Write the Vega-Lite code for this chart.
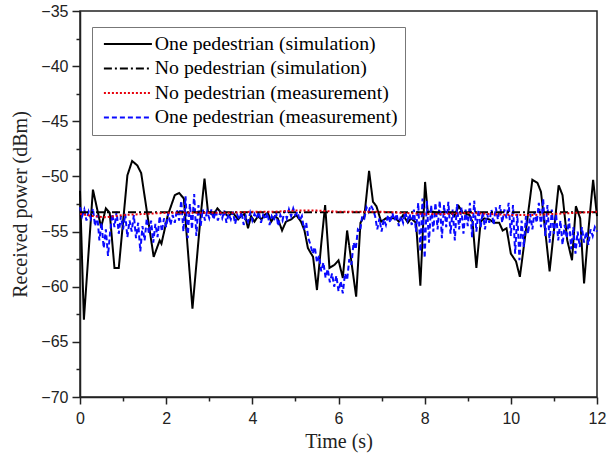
{
  "$schema": "https://vega.github.io/schema/vega-lite/v6.json",
  "width": 517,
  "height": 386,
  "autosize": "none",
  "padding": {"left": 80, "top": 11, "right": 14, "bottom": 59},
  "background": "white",
  "config": {
    "view": {"stroke": "#222", "strokeWidth": 1.5},
    "axis": {
      "grid": false,
      "domainColor": "#222",
      "domainWidth": 1.5,
      "tickColor": "#222",
      "tickWidth": 1.5,
      "labelFont": "Liberation Sans",
      "labelFontSize": 16,
      "labelColor": "#222",
      "titleFont": "Liberation Serif",
      "titleFontSize": 20,
      "titleFontWeight": "normal",
      "titleColor": "#222"
    }
  },
  "datasets": {
    "sim1": [
      {"t":0.0,"v":-51.3},{"t":0.09,"v":-63.0},{"t":0.30,"v":-51.2},{"t":0.49,"v":-54.6},{"t":0.60,"v":-52.9},{"t":0.69,"v":-53.3},{"t":0.80,"v":-58.3},{"t":0.90,"v":-58.3},{"t":1.10,"v":-49.9},{"t":1.21,"v":-48.6},{"t":1.33,"v":-49.0},{"t":1.42,"v":-49.7},{"t":1.71,"v":-57.3},{"t":1.85,"v":-55.8},{"t":1.89,"v":-56.1},{"t":2.04,"v":-53.5},{"t":2.20,"v":-51.7},{"t":2.30,"v":-51.5},{"t":2.41,"v":-52.0},{"t":2.61,"v":-62.0},{"t":2.80,"v":-53.6},{"t":2.89,"v":-50.2},{"t":2.97,"v":-53.2},{"t":3.09,"v":-53.5},{"t":3.19,"v":-52.9},{"t":3.28,"v":-53.3},{"t":3.36,"v":-53.3},{"t":3.43,"v":-53.6},{"t":3.55,"v":-53.3},{"t":3.67,"v":-53.9},{"t":3.74,"v":-53.6},{"t":3.82,"v":-53.4},{"t":3.90,"v":-54.7},{"t":3.97,"v":-53.6},{"t":4.05,"v":-54.1},{"t":4.13,"v":-53.6},{"t":4.21,"v":-53.9},{"t":4.28,"v":-53.5},{"t":4.36,"v":-53.3},{"t":4.44,"v":-54.1},{"t":4.52,"v":-53.6},{"t":4.59,"v":-53.8},{"t":4.69,"v":-54.9},{"t":4.78,"v":-54.1},{"t":4.90,"v":-53.9},{"t":5.02,"v":-53.5},{"t":5.13,"v":-54.1},{"t":5.21,"v":-54.9},{"t":5.29,"v":-56.5},{"t":5.41,"v":-57.3},{"t":5.50,"v":-60.3},{"t":5.60,"v":-56.1},{"t":5.69,"v":-52.6},{"t":5.79,"v":-58.3},{"t":5.91,"v":-58.0},{"t":6.00,"v":-57.6},{"t":6.10,"v":-59.2},{"t":6.20,"v":-54.9},{"t":6.41,"v":-60.9},{"t":6.51,"v":-54.2},{"t":6.60,"v":-53.6},{"t":6.71,"v":-49.5},{"t":6.80,"v":-52.3},{"t":6.88,"v":-52.7},{"t":6.99,"v":-54.1},{"t":7.10,"v":-53.8},{"t":7.21,"v":-53.8},{"t":7.33,"v":-53.8},{"t":7.40,"v":-54.1},{"t":7.50,"v":-53.5},{"t":7.61,"v":-54.2},{"t":7.68,"v":-53.8},{"t":7.80,"v":-54.2},{"t":7.90,"v":-59.9},{"t":8.01,"v":-50.5},{"t":8.07,"v":-53.2},{"t":8.19,"v":-53.2},{"t":8.30,"v":-53.3},{"t":8.46,"v":-53.2},{"t":8.61,"v":-53.3},{"t":8.69,"v":-53.6},{"t":8.79,"v":-52.7},{"t":8.89,"v":-53.3},{"t":9.04,"v":-53.5},{"t":9.11,"v":-54.1},{"t":9.20,"v":-58.3},{"t":9.30,"v":-54.1},{"t":9.38,"v":-53.8},{"t":9.50,"v":-53.9},{"t":9.61,"v":-54.2},{"t":9.73,"v":-54.2},{"t":9.81,"v":-54.9},{"t":9.90,"v":-54.7},{"t":10.00,"v":-57.0},{"t":10.12,"v":-57.7},{"t":10.21,"v":-59.1},{"t":10.35,"v":-54.9},{"t":10.50,"v":-50.3},{"t":10.62,"v":-50.6},{"t":10.70,"v":-51.4},{"t":10.90,"v":-58.6},{"t":11.11,"v":-50.8},{"t":11.20,"v":-51.7},{"t":11.31,"v":-55.8},{"t":11.42,"v":-57.6},{"t":11.51,"v":-52.7},{"t":11.61,"v":-53.8},{"t":11.70,"v":-59.7},{"t":11.80,"v":-54.9},{"t":11.91,"v":-50.3},{"t":12.00,"v":-53.6}
    ],
    "sim0": [
      {"t":0,"v":-53.25},{"t":12,"v":-53.25}
    ],
    "meas0": [
      {"t":0,"v":-53.4},{"t":0.3,"v":-53.6},{"t":0.6,"v":-53.7},{"t":1.0,"v":-53.5},{"t":1.5,"v":-53.4},{"t":2.0,"v":-53.3},{"t":2.5,"v":-53.3},{"t":3.0,"v":-53.3},{"t":3.5,"v":-53.3},{"t":4.0,"v":-53.2},{"t":4.5,"v":-53.2},{"t":5.0,"v":-53.1},{"t":5.5,"v":-53.1},{"t":6.0,"v":-53.2},{"t":6.5,"v":-53.2},{"t":7.0,"v":-53.2},{"t":7.5,"v":-53.3},{"t":8.0,"v":-53.4},{"t":8.5,"v":-53.4},{"t":9.0,"v":-53.3},{"t":9.5,"v":-53.4},{"t":10.0,"v":-53.5},{"t":10.5,"v":-53.5},{"t":11.0,"v":-53.4},{"t":11.5,"v":-53.3},{"t":12.0,"v":-53.2}
    ],
    "meas1": [
      {"t":0.00,"v":-52.8},{"t":0.05,"v":-53.6},{"t":0.10,"v":-53.0},{"t":0.15,"v":-54.0},{"t":0.20,"v":-53.2},{"t":0.25,"v":-53.8},{"t":0.30,"v":-52.9},{"t":0.35,"v":-54.5},{"t":0.40,"v":-53.5},{"t":0.45,"v":-55.8},{"t":0.50,"v":-54.2},{"t":0.55,"v":-56.5},{"t":0.60,"v":-54.8},{"t":0.65,"v":-57.2},{"t":0.70,"v":-55.0},{"t":0.75,"v":-53.4},{"t":0.80,"v":-54.6},{"t":0.85,"v":-53.2},{"t":0.90,"v":-55.2},{"t":0.95,"v":-53.6},
      {"t":1.00,"v":-54.8},{"t":1.05,"v":-53.4},{"t":1.10,"v":-55.5},{"t":1.15,"v":-54.0},{"t":1.20,"v":-55.0},{"t":1.25,"v":-53.5},{"t":1.30,"v":-55.6},{"t":1.35,"v":-54.2},{"t":1.40,"v":-56.8},{"t":1.45,"v":-54.5},{"t":1.50,"v":-55.8},{"t":1.55,"v":-53.8},{"t":1.60,"v":-55.2},{"t":1.65,"v":-54.0},{"t":1.70,"v":-56.0},{"t":1.75,"v":-54.3},{"t":1.80,"v":-55.5},{"t":1.85,"v":-53.6},{"t":1.90,"v":-55.0},{"t":1.95,"v":-53.8},
      {"t":2.00,"v":-54.6},{"t":2.05,"v":-53.3},{"t":2.10,"v":-54.4},{"t":2.15,"v":-53.5},{"t":2.20,"v":-54.2},{"t":2.25,"v":-53.0},{"t":2.30,"v":-54.0},{"t":2.35,"v":-52.2},{"t":2.40,"v":-55.0},{"t":2.45,"v":-51.8},{"t":2.50,"v":-55.6},{"t":2.55,"v":-52.5},{"t":2.60,"v":-54.8},{"t":2.65,"v":-51.6},{"t":2.70,"v":-55.4},{"t":2.75,"v":-52.6},{"t":2.80,"v":-54.5},{"t":2.85,"v":-53.0},{"t":2.90,"v":-54.0},{"t":2.95,"v":-53.2},
      {"t":3.00,"v":-53.8},{"t":3.05,"v":-53.0},{"t":3.10,"v":-53.9},{"t":3.15,"v":-53.1},{"t":3.20,"v":-54.0},{"t":3.25,"v":-53.3},{"t":3.30,"v":-53.8},{"t":3.35,"v":-53.1},{"t":3.40,"v":-54.2},{"t":3.45,"v":-53.4},{"t":3.50,"v":-53.9},{"t":3.55,"v":-53.2},{"t":3.60,"v":-54.3},{"t":3.65,"v":-53.5},{"t":3.70,"v":-53.9},{"t":3.75,"v":-53.2},{"t":3.80,"v":-54.4},{"t":3.85,"v":-53.6},{"t":3.90,"v":-54.1},{"t":3.95,"v":-53.3},
      {"t":4.00,"v":-54.0},{"t":4.05,"v":-53.4},{"t":4.10,"v":-53.8},{"t":4.15,"v":-53.2},{"t":4.20,"v":-54.2},{"t":4.25,"v":-53.5},{"t":4.30,"v":-53.9},{"t":4.35,"v":-53.3},{"t":4.40,"v":-54.4},{"t":4.45,"v":-53.6},{"t":4.50,"v":-54.0},{"t":4.55,"v":-53.2},{"t":4.60,"v":-54.5},{"t":4.65,"v":-53.5},{"t":4.70,"v":-54.0},{"t":4.75,"v":-53.1},{"t":4.80,"v":-53.8},{"t":4.85,"v":-53.0},{"t":4.90,"v":-53.6},{"t":4.95,"v":-52.9},
      {"t":5.00,"v":-53.5},{"t":5.05,"v":-53.2},{"t":5.10,"v":-54.0},{"t":5.15,"v":-53.6},{"t":5.20,"v":-54.8},{"t":5.25,"v":-54.2},{"t":5.30,"v":-55.6},{"t":5.35,"v":-56.2},{"t":5.40,"v":-57.0},{"t":5.45,"v":-56.4},{"t":5.50,"v":-57.8},{"t":5.55,"v":-57.2},{"t":5.60,"v":-58.6},{"t":5.65,"v":-57.8},{"t":5.70,"v":-59.2},{"t":5.75,"v":-58.4},{"t":5.80,"v":-59.6},{"t":5.85,"v":-58.8},{"t":5.90,"v":-60.0},{"t":5.95,"v":-59.0},
      {"t":6.00,"v":-60.4},{"t":6.05,"v":-59.5},{"t":6.10,"v":-60.6},{"t":6.15,"v":-58.8},{"t":6.20,"v":-59.4},{"t":6.25,"v":-57.5},{"t":6.30,"v":-58.0},{"t":6.35,"v":-56.0},{"t":6.40,"v":-56.6},{"t":6.45,"v":-54.8},{"t":6.50,"v":-55.0},{"t":6.55,"v":-53.6},{"t":6.60,"v":-53.8},{"t":6.65,"v":-52.8},{"t":6.70,"v":-53.2},{"t":6.75,"v":-52.6},{"t":6.80,"v":-53.0},{"t":6.85,"v":-53.6},{"t":6.90,"v":-54.8},{"t":6.95,"v":-53.8},
      {"t":7.00,"v":-55.0},{"t":7.05,"v":-53.9},{"t":7.10,"v":-54.4},{"t":7.15,"v":-53.5},{"t":7.20,"v":-54.2},{"t":7.25,"v":-53.3},{"t":7.30,"v":-54.0},{"t":7.35,"v":-53.4},{"t":7.40,"v":-54.5},{"t":7.45,"v":-53.6},{"t":7.50,"v":-54.2},{"t":7.55,"v":-53.2},{"t":7.60,"v":-54.0},{"t":7.65,"v":-53.4},{"t":7.70,"v":-54.4},{"t":7.75,"v":-53.0},{"t":7.80,"v":-55.0},{"t":7.85,"v":-52.4},{"t":7.90,"v":-56.8},{"t":7.95,"v":-52.0},
      {"t":8.00,"v":-57.4},{"t":8.05,"v":-52.2},{"t":8.10,"v":-56.0},{"t":8.15,"v":-52.6},{"t":8.20,"v":-55.0},{"t":8.25,"v":-52.4},{"t":8.30,"v":-54.8},{"t":8.35,"v":-52.2},{"t":8.40,"v":-55.6},{"t":8.45,"v":-52.6},{"t":8.50,"v":-54.6},{"t":8.55,"v":-52.3},{"t":8.60,"v":-55.2},{"t":8.65,"v":-53.0},{"t":8.70,"v":-55.8},{"t":8.75,"v":-52.5},{"t":8.80,"v":-54.8},{"t":8.85,"v":-52.8},{"t":8.90,"v":-55.2},{"t":8.95,"v":-53.0},
      {"t":9.00,"v":-54.5},{"t":9.05,"v":-52.4},{"t":9.10,"v":-55.5},{"t":9.15,"v":-52.2},{"t":9.20,"v":-55.0},{"t":9.25,"v":-53.0},{"t":9.30,"v":-54.6},{"t":9.35,"v":-53.2},{"t":9.40,"v":-54.8},{"t":9.45,"v":-53.4},{"t":9.50,"v":-54.2},{"t":9.55,"v":-53.0},{"t":9.60,"v":-54.4},{"t":9.65,"v":-52.8},{"t":9.70,"v":-53.9},{"t":9.75,"v":-52.6},{"t":9.80,"v":-54.2},{"t":9.85,"v":-53.0},{"t":9.90,"v":-53.8},{"t":9.95,"v":-52.4},
      {"t":10.00,"v":-55.4},{"t":10.05,"v":-52.6},{"t":10.10,"v":-57.0},{"t":10.15,"v":-53.4},{"t":10.20,"v":-57.6},{"t":10.25,"v":-54.0},{"t":10.30,"v":-56.4},{"t":10.35,"v":-53.6},{"t":10.40,"v":-55.2},{"t":10.45,"v":-53.4},{"t":10.50,"v":-54.8},{"t":10.55,"v":-53.2},{"t":10.60,"v":-54.2},{"t":10.65,"v":-52.4},{"t":10.70,"v":-54.6},{"t":10.75,"v":-52.0},{"t":10.80,"v":-55.4},{"t":10.85,"v":-52.6},{"t":10.90,"v":-56.0},{"t":10.95,"v":-53.0},
      {"t":11.00,"v":-55.2},{"t":11.05,"v":-53.4},{"t":11.10,"v":-55.8},{"t":11.15,"v":-54.0},{"t":11.20,"v":-56.2},{"t":11.25,"v":-54.4},{"t":11.30,"v":-55.6},{"t":11.35,"v":-53.8},{"t":11.40,"v":-56.6},{"t":11.45,"v":-54.6},{"t":11.50,"v":-57.0},{"t":11.55,"v":-55.0},{"t":11.60,"v":-56.4},{"t":11.65,"v":-54.6},{"t":11.70,"v":-56.0},{"t":11.75,"v":-55.0},{"t":11.80,"v":-56.2},{"t":11.85,"v":-54.8},{"t":11.90,"v":-55.4},{"t":11.95,"v":-54.6},{"t":12.00,"v":-55.0}
    ]
  },
  "encoding": {
    "x": {
      "field": "t", "type": "quantitative",
      "scale": {"domain": [0, 12], "nice": false, "zero": false},
      "axis": {
        "title": "Time (s)",
        "values": [0,1,2,3,4,5,6,7,8,9,10,11,12],
        "labelExpr": "datum.value % 2 === 0 ? datum.label : ''",
        "tickSize": {"condition": {"test": "datum.value % 2 === 0", "value": 7}, "value": 4},
        "labelPadding": 6,
        "titlePadding": 5,
        "labelFlush": false
      }
    },
    "y": {
      "field": "v", "type": "quantitative",
      "scale": {"domain": [-70, -35], "nice": false, "zero": false},
      "axis": {
        "title": "Received power (dBm)",
        "values": [-70,-67.5,-65,-62.5,-60,-57.5,-55,-52.5,-50,-47.5,-45,-42.5,-40,-37.5,-35],
        "labelExpr": "datum.value % 5 === 0 ? datum.label : ''",
        "tickSize": {"condition": {"test": "datum.value % 5 === 0", "value": 8}, "value": 4},
        "labelPadding": 4,
        "titlePadding": 10,
        "labelFlush": false
      }
    }
  },
  "layer": [
    {
      "data": {"name": "sim1"},
      "mark": {"type": "line", "strokeWidth": 2},
      "encoding": {
        "color": {
          "datum": "One pedestrian (simulation)", "type": "nominal",
          "scale": {
            "domain": ["One pedestrian (simulation)", "No pedestrian (simulation)", "No pedestrian (measurement)", "One pedestrian (measurement)"],
            "range": ["#000000", "#000000", "#e8000b", "#0a0aff"]
          },
          "legend": {
            "title": null,
            "orient": "none",
            "legendX": 12,
            "legendY": 16,
            "direction": "vertical",
            "strokeColor": "#777",
            "fillColor": "white",
            "padding": 7,
            "rowPadding": 3.5,
            "labelFont": "Liberation Serif",
            "labelFontSize": 19.8,
            "labelLimit": 400,
            "labelColor": "#000",
            "symbolType": "M-1,0H8.6",
            "symbolSize": 100,
            "symbolStrokeWidth": 2,
            "labelOffset": 36
          }
        },
        "strokeDash": {
          "datum": "One pedestrian (simulation)", "type": "nominal",
          "scale": {
            "domain": ["One pedestrian (simulation)", "No pedestrian (simulation)", "No pedestrian (measurement)", "One pedestrian (measurement)"],
            "range": [[1, 0], [8, 3, 2, 3], [2, 2], [5, 3]]
          },
          "legend": {
            "title": null,
            "orient": "none",
            "legendX": 12,
            "legendY": 16,
            "direction": "vertical",
            "strokeColor": "#777",
            "fillColor": "white",
            "padding": 7,
            "rowPadding": 3.5,
            "labelFont": "Liberation Serif",
            "labelFontSize": 19.8,
            "labelLimit": 400,
            "labelColor": "#000",
            "symbolType": "M-1,0H8.6",
            "symbolSize": 100,
            "symbolStrokeWidth": 2,
            "labelOffset": 36
          }
        }
      }
    },
    {
      "data": {"name": "meas1"},
      "mark": {"type": "line", "strokeWidth": 2},
      "encoding": {
        "color": {"datum": "One pedestrian (measurement)", "type": "nominal"},
        "strokeDash": {"datum": "One pedestrian (measurement)", "type": "nominal"}
      }
    },
    {
      "data": {"name": "sim0"},
      "mark": {"type": "line", "strokeWidth": 2},
      "encoding": {
        "color": {"datum": "No pedestrian (simulation)", "type": "nominal"},
        "strokeDash": {"datum": "No pedestrian (simulation)", "type": "nominal"}
      }
    },
    {
      "data": {"name": "meas0"},
      "mark": {"type": "line", "strokeWidth": 2},
      "encoding": {
        "color": {"datum": "No pedestrian (measurement)", "type": "nominal"},
        "strokeDash": {"datum": "No pedestrian (measurement)", "type": "nominal"}
      }
    }
  ]
}
